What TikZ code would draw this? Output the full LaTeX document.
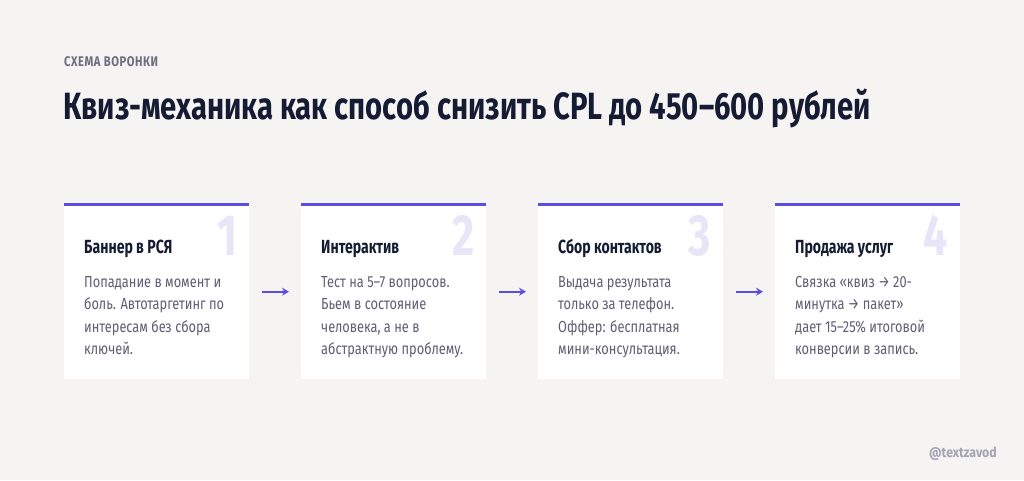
\documentclass[tikz,border=0pt]{standalone}
\usepackage{fontspec}
\setmainfont{Fira Sans}
\newfontfamily\fcond{Fira Sans}[FakeStretch=0.74]
\newfontfamily\ftitle{Fira Sans}[FakeStretch=0.77]
\newfontfamily\fbody{Fira Sans}[FakeStretch=0.80]
\newfontfamily\fwm{Fira Sans}[FakeStretch=0.88]
\newfontfamily\fsub{Fira Sans}[FakeStretch=0.80,LetterSpace=4]
\usetikzlibrary{arrows.meta}
\definecolor{bg}{HTML}{F5F4F2}
\definecolor{accent}{HTML}{5A4DE3}
\definecolor{numc}{HTML}{E7E5F7}
\definecolor{headc}{HTML}{141B33}
\definecolor{bodyc}{HTML}{5F5E73}
\definecolor{subc}{HTML}{6E6D82}
\definecolor{wmc}{HTML}{A4A3B5}
\tikzset{
  card/.style={fill=white, draw=none, minimum width=185pt, minimum height=175pt, anchor=north west, inner sep=0pt},
  bar/.style={draw=accent, line width=3pt},
  bignum/.style={anchor=base east, inner sep=0pt, text=numc, font=\fcond\bfseries\fontsize{58}{58}\selectfont},
  head/.style={anchor=base west, inner sep=0pt, text=headc, font=\fcond\fontsize{19}{22}\selectfont\bfseries},
  body/.style={anchor=north west, inner sep=0pt, align=left, text=bodyc, font=\fbody\fontsize{16}{22.5}\selectfont},
  flow/.style={draw=accent, line width=2pt, -{Stealth[length=7pt,width=8pt]}},
}
\begin{document}
\begin{tikzpicture}[x=1pt,y=-1pt]
\useasboundingbox (0,0) rectangle (1024,480);
\fill[bg] (0,0) rectangle (1024,480);
\node[anchor=base west, inner sep=0pt, text=subc, font=\fsub\fontsize{14}{14}\selectfont\bfseries] (sub) at (64,66.5) {СХЕМА ВОРОНКИ};
\node[anchor=base west, inner sep=0pt, text=headc, font=\ftitle\fontsize{38}{40}\selectfont\bfseries] (title) at (63,119) {Квиз-механика как способ снизить CPL до 450–600 рублей};
% cards
\foreach \i/\x in {1/64,2/301,3/538,4/775}{
  \node[card] (c\i) at (\x,204) {};
  \draw[bar] (c\i.north west) -- (c\i.north east);
  \node[bignum] (n\i) at ([xshift=-12pt,yshift=-51pt]c\i.north east) {\i};
}
\node[head] (h1) at ([xshift=20pt,yshift=-49.5pt]c1.north west) {Баннер в РСЯ};
\node[head] (h2) at ([xshift=20pt,yshift=-49.5pt]c2.north west) {Интерактив};
\node[head] (h3) at ([xshift=20pt,yshift=-49.5pt]c3.north west) {Сбор контактов};
\node[head] (h4) at ([xshift=20pt,yshift=-49.5pt]c4.north west) {Продажа услуг};
\node[body] (b1) at ([xshift=20pt,yshift=-72pt]c1.north west) {Попадание в момент и\\боль. Автотаргетинг по\\интересам без сбора\\ключей.};
\node[body] (b2) at ([xshift=20pt,yshift=-72pt]c2.north west) {Тест на 5–7 вопросов.\\Бьем в состояние\\человека, а не в\\абстрактную проблему.};
\node[body] (b3) at ([xshift=20pt,yshift=-72pt]c3.north west) {Выдача результата\\только за телефон.\\Оффер: бесплатная\\мини-консультация.};
\node[body] (b4) at ([xshift=20pt,yshift=-72pt]c4.north west) {Связка «квиз → 20-\\минутка → пакет»\\дает 15–25\% итоговой\\конверсии в запись.};
\draw[flow] ([xshift=13pt]c1.east) -- ([xshift=-12pt]c2.west);
\draw[flow] ([xshift=13pt]c2.east) -- ([xshift=-12pt]c3.west);
\draw[flow] ([xshift=13pt]c3.east) -- ([xshift=-12pt]c4.west);
\node[anchor=base east, inner sep=0pt, text=wmc, font=\fwm\fontsize{14}{14}\selectfont\bfseries] (wm) at (997,457) {@textzavod};
\end{tikzpicture}
\end{document}
